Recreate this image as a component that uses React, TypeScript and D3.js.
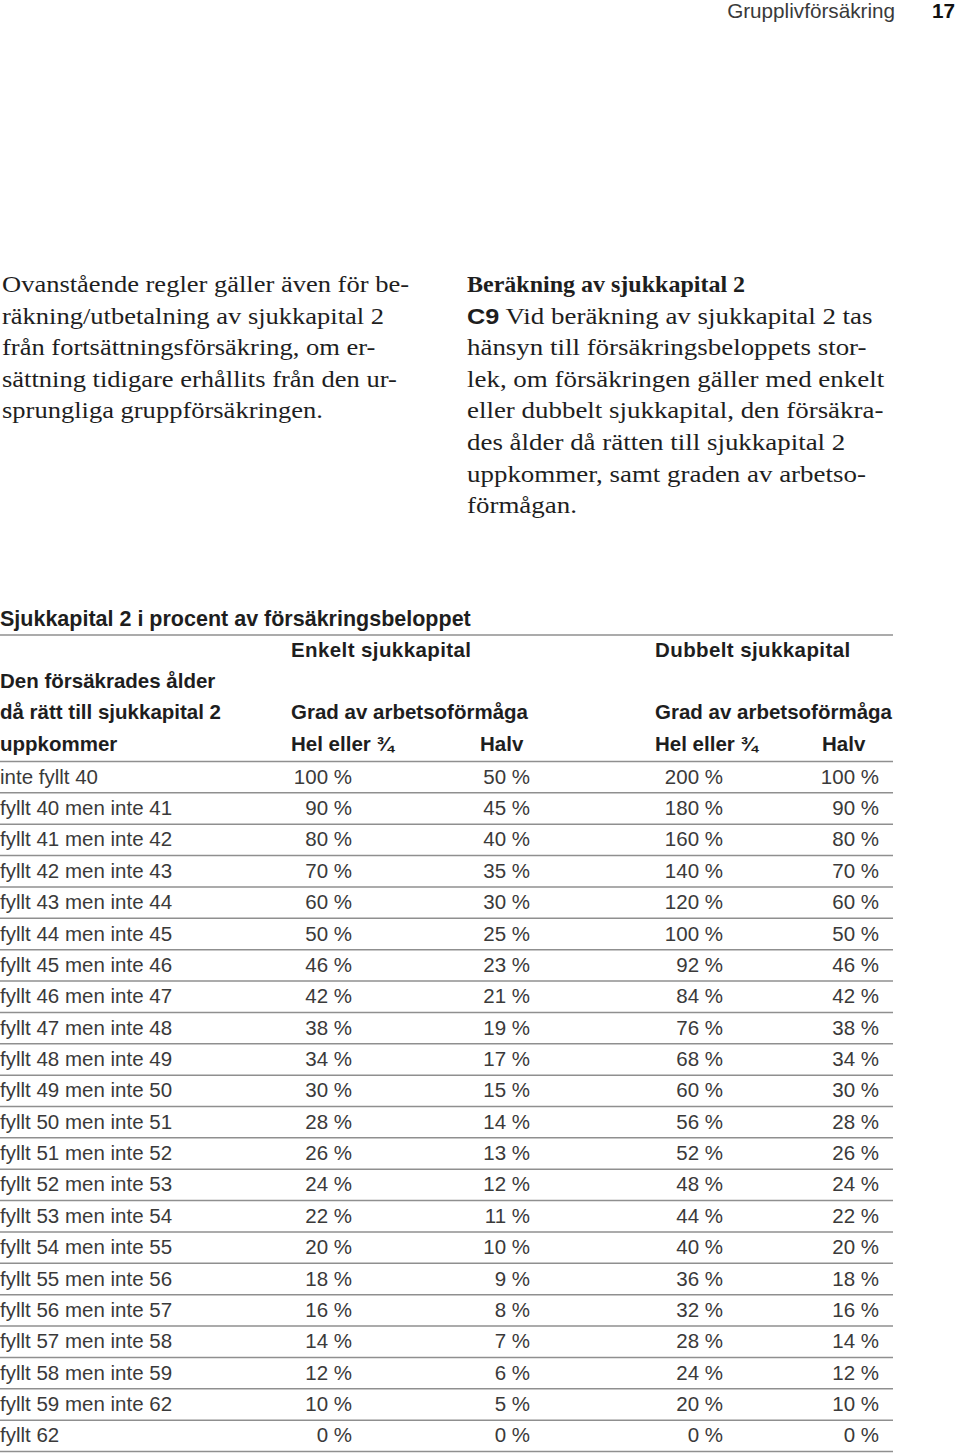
import React from "react";
import * as d3 from "d3";

const pageTitle = "Grupplivförsäkring";
const pageNumber = "17";

const leftParagraph = [
  "Ovanstående regler gäller även för be-",
  "räkning/utbetalning av sjukkapital 2",
  "från fortsättningsförsäkring, om er-",
  "sättning tidigare erhållits från den ur-",
  "sprungliga gruppförsäkringen.",
];

const rightHeading = "Beräkning av sjukkapital 2";
const rightLead = "C9";
const rightParagraph = [
  " Vid beräkning av sjukkapital 2 tas",
  "hänsyn till försäkringsbeloppets stor-",
  "lek, om försäkringen gäller med enkelt",
  "eller dubbelt sjukkapital, den försäkra-",
  "des ålder då rätten till sjukkapital 2",
  "uppkommer, samt graden av arbetso-",
  "förmågan.",
];

const tableTitle = "Sjukkapital 2 i procent av försäkringsbeloppet";
const groupHeaders = ["Enkelt sjukkapital", "Dubbelt sjukkapital"];
const ageHeader = ["Den försäkrades ålder", "då rätt till sjukkapital 2", "uppkommer"];
const gradeHeader = "Grad av arbetsoförmåga";
const subHeaders = ["Hel eller ¾", "Halv", "Hel eller ¾", "Halv"];

const ageLabels = [
  "inte fyllt 40",
  "fyllt 40 men inte 41",
  "fyllt 41 men inte 42",
  "fyllt 42 men inte 43",
  "fyllt 43 men inte 44",
  "fyllt 44 men inte 45",
  "fyllt 45 men inte 46",
  "fyllt 46 men inte 47",
  "fyllt 47 men inte 48",
  "fyllt 48 men inte 49",
  "fyllt 49 men inte 50",
  "fyllt 50 men inte 51",
  "fyllt 51 men inte 52",
  "fyllt 52 men inte 53",
  "fyllt 53 men inte 54",
  "fyllt 54 men inte 55",
  "fyllt 55 men inte 56",
  "fyllt 56 men inte 57",
  "fyllt 57 men inte 58",
  "fyllt 58 men inte 59",
  "fyllt 59 men inte 62",
  "fyllt 62",
];

const enkeltHel = [100, 90, 80, 70, 60, 50, 46, 42, 38, 34, 30, 28, 26, 24, 22, 20, 18, 16, 14, 12, 10, 0];
const enkeltHalv = [50, 45, 40, 35, 30, 25, 23, 21, 19, 17, 15, 14, 13, 12, 11, 10, 9, 8, 7, 6, 5, 0];
const dubbeltHel = [200, 180, 160, 140, 120, 100, 92, 84, 76, 68, 60, 56, 52, 48, 44, 40, 36, 32, 28, 24, 20, 0];
const dubbeltHalv = [100, 90, 80, 70, 60, 50, 46, 42, 38, 34, 30, 28, 26, 24, 22, 20, 18, 16, 14, 12, 10, 0];

const W = 960;
const H = 1453;
const SANS = "'Liberation Sans', Arial, Helvetica, sans-serif";
const SERIF = "'Liberation Serif', 'Times New Roman', serif";
const TEXT = "#1e1e1e";
const BODY = "#3a3a3a";
const RULE = "#8f8f8f";

export default function App() {
  const tableLeft = 0;
  const tableRight = 893;
  const bodyTop = 761.5;
  const bodyBottom = 1451.5;

  const y = d3
    .scaleBand<number>()
    .domain(d3.range(ageLabels.length))
    .range([bodyTop, bodyBottom])
    .paddingInner(0)
    .paddingOuter(0);

  const columns = [
    { values: enkeltHel, right: 352 },
    { values: enkeltHalv, right: 530 },
    { values: dubbeltHel, right: 723 },
    { values: dubbeltHalv, right: 879 },
  ];
  const subHeaderX = [291, 480, 655, 822];
  const groupX = [291, 655];

  const paraY = d3.scaleLinear().domain([0, 1]).range([292, 323.6]);
  const serifScaleLeft = 1.105;
  const serifScaleRight = 1.122;

  const fs = 20.5;

  return (
    <svg
      width={W}
      height={H}
      style={{ position: "absolute", left: 0, top: 0, background: "#fff" }}
      xmlns="http://www.w3.org/2000/svg"
    >
      <rect x={0} y={0} width={W} height={H} fill="#fff" />
      {/* running header */}
      <text x={895} y={18} textAnchor="end" fontFamily={SANS} fontSize={20.7} fill="#3a3a3a">
        {pageTitle}
      </text>
      <text x={955} y={18} textAnchor="end" fontFamily={SANS} fontSize={20.7} fill="#111" fontWeight={700}>
        {pageNumber}
      </text>

      {/* left paragraph */}
      <g transform={`translate(2,0) scale(${serifScaleLeft},1)`}>
        {leftParagraph.map((line, i) => (
          <text key={"l" + i} x={0} y={paraY(i)} fontFamily={SERIF} fontSize={24} fill={TEXT}>
            {line}
          </text>
        ))}
      </g>

      {/* right paragraph */}
      <text x={467} y={paraY(0)} fontFamily={SERIF} fontSize={24} fontWeight={700} fill={TEXT}>
        {rightHeading}
      </text>
      <g transform={`translate(467,0) scale(${serifScaleRight},1)`}>
        {rightParagraph.map((line, i) => (
          <text key={"r" + i} x={0} y={paraY(i + 1)} fontFamily={SERIF} fontSize={24} fill={TEXT}>
            {i === 0 ? (
              <>
                <tspan fontFamily={SANS} fontWeight={700} fontSize={22.5}>
                  {rightLead}
                </tspan>
                <tspan>{line}</tspan>
              </>
            ) : (
              line
            )}
          </text>
        ))}
      </g>

      {/* table title */}
      <text x={tableLeft} y={626} fontFamily={SANS} fontSize={21.5} fontWeight={700} fill={TEXT}>
        {tableTitle}
      </text>
      <line x1={tableLeft} x2={tableRight} y1={635} y2={635} stroke={RULE} strokeWidth={1.5} />

      {/* header block */}
      {groupHeaders.map((g, i) => (
        <text key={"g" + i} x={groupX[i]} y={657} fontFamily={SANS} fontSize={fs} fontWeight={700} fill={TEXT} letterSpacing={0.4}>
          {g}
        </text>
      ))}
      {ageHeader.map((t, i) => (
        <text key={"a" + i} x={tableLeft} y={688 + i * 31.3} fontFamily={SANS} fontSize={fs} fontWeight={700} fill={TEXT}>
          {t}
        </text>
      ))}
      {groupX.map((x, i) => (
        <text key={"gr" + i} x={x} y={719.3} fontFamily={SANS} fontSize={fs} fontWeight={700} fill={TEXT}>
          {gradeHeader}
        </text>
      ))}
      {subHeaders.map((t, i) => (
        <text key={"s" + i} x={subHeaderX[i]} y={750.6} fontFamily={SANS} fontSize={fs} fontWeight={700} fill={TEXT}>
          {t}
        </text>
      ))}

      {/* rules */}
      {d3.range(ageLabels.length + 1).map((i) => {
        const yy = i < ageLabels.length ? (y(i) as number) : bodyBottom;
        return <line key={"rule" + i} x1={tableLeft} x2={tableRight} y1={yy} y2={yy} stroke={RULE} strokeWidth={1.5} />;
      })}

      {/* body */}
      {ageLabels.map((lab, i) => {
        const cy = (y(i) as number) + y.bandwidth() / 2 + 6.5;
        return (
          <g key={"row" + i}>
            <text x={tableLeft} y={cy} fontFamily={SANS} fontSize={fs} fill={BODY}>
              {lab}
            </text>
            {columns.map((c, j) => (
              <text key={"c" + j} x={c.right} y={cy} textAnchor="end" fontFamily={SANS} fontSize={fs} fill={BODY}>
                {`${c.values[i]} %`}
              </text>
            ))}
          </g>
        );
      })}
    </svg>
  );
}
